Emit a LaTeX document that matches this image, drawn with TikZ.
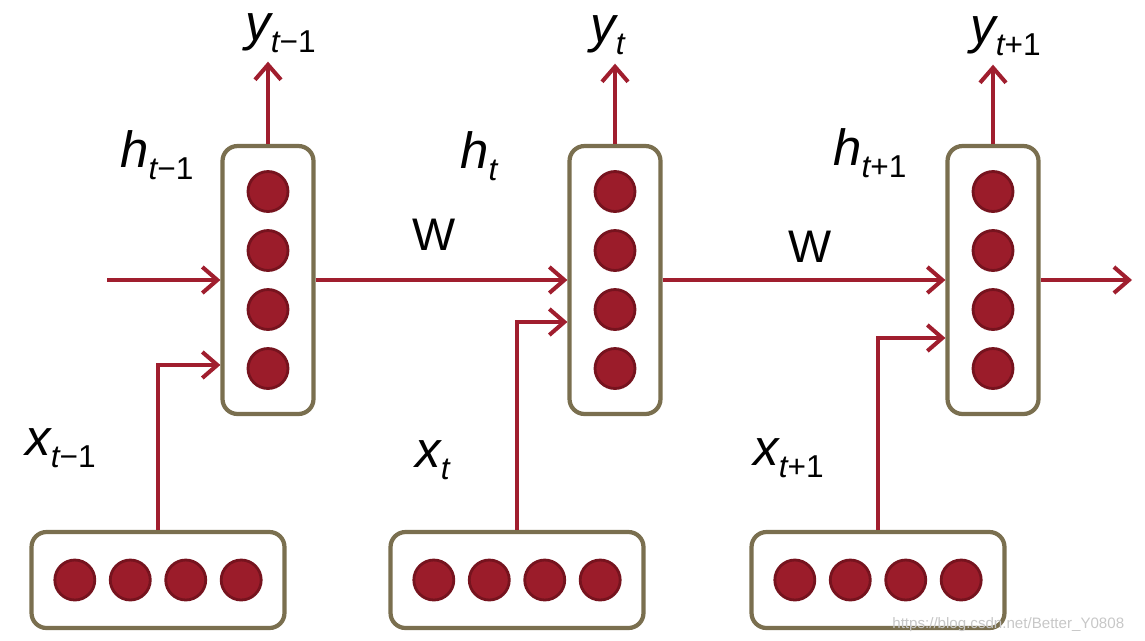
\documentclass[tikz,border=0pt]{standalone}
\usepackage{fontspec}
\setmainfont{Liberation Sans}
\usetikzlibrary{arrows.meta,%
	positioning,%
	calc}
\definecolor{boxgray}{RGB}{122,111,79}
\definecolor{arrred}{RGB}{160,30,46}
\definecolor{dotred}{RGB}{155,28,42}
\definecolor{dotedge}{RGB}{118,19,30}
\newcommand{\seqlab}[2]{{\itshape #1}\raisebox{-0.24cm}{\fontsize{18}{18}\selectfont\itshape t\upshape #2}}

\begin{document}
\begin{tikzpicture}[x = 0.02cm, y = -0.02cm, layer/.style = {draw=boxgray, line width=2.4pt, rounded corners=0.3cm, fill=white, inner sep=0pt}, hid/.style = {layer, minimum width=1.82cm, minimum height=5.36cm}, inp/.style = {layer, minimum width=5.06cm, minimum height=1.92cm}, unit/.style = {circle, draw=dotedge, line width=1.6pt, fill=dotred, minimum size=0.8cm, inner sep=0pt}, edge/.style = {draw=arrred, line width=2.3pt, -{Straight Barb[length=0.3cm, width=0.52cm]}}, lab/.style = {font=\fontsize{29}{30}\selectfont, inner sep=0pt, anchor=base west}, wlab/.style = {font=\fontsize{26}{28}\selectfont, inner sep=0pt, anchor=base west}]
	\useasboundingbox (0,0) rectangle (1145,640);
	\node[hid] (h1) at (268,280) {};
	\node[hid] (h2) at (615,280) {};
	\node[hid] (h3) at (993,280) {};
	\node[inp] (x1) at (158,580) {};
	\node[inp] (x2) at (517,580) {};
	\node[inp] (x3) at (878,580) {};
	\foreach \b in {1,2,3} {
		\foreach \k/\d in {1/-88.5,2/-29.5,3/29.5,4/88.5} {
			\node[unit] (h\b-\k) at ($(h\b)+(0,\d)$) {};
			\node[unit] (x\b-\k) at ($(x\b)+(\d*0.94,0)$) {};
		}
	}
	\node[lab] (y1) at (245,40) {\seqlab{y}{−1}};
	\node[lab] (y2) at (590,42) {\seqlab{y}{}};
	\node[lab] (y3) at (970,43) {\seqlab{y}{+1}};
	\node[lab] (hl1) at (120,167) {\seqlab{h}{−1}};
	\node[lab] (hl2) at (460,168) {\seqlab{h}{}};
	\node[lab] (hl3) at (833,165) {\seqlab{h}{+1}};
	\node[lab] (xl1) at (25,455) {\seqlab{x}{−1}};
	\node[lab] (xl2) at (415,467) {\seqlab{x}{}};
	\node[lab] (xl3) at (753,465) {\seqlab{x}{+1}};
	\node[wlab] (w1) at (412,250) {W};
	\node[wlab] (w2) at (788,262) {W};
	\coordinate (hin) at (107,280);
	\coordinate (hout) at (1132,280);
	\draw[edge] (hin) -- (h1);
	\draw[edge] (h1) -- (h2);
	\draw[edge] (h2) -- (h3);
	\draw[edge] (h3) -- (hout);
	\draw[edge, shorten >=0.18cm] (h1.north) -- (h1.north |- y1.south);
	\draw[edge, shorten >=0.18cm] (h2.north) -- (h2.north |- y2.south);
	\draw[edge, shorten >=0.18cm] (h3.north) -- (h3.north |- y3.south);
	\draw[edge] (x1) |- ([yshift=-1.7cm]h1.west);
	\draw[edge] (x2) |- ([yshift=-0.84cm]h2.west);
	\draw[edge] (x3) |- ([yshift=-1.16cm]h3.west);
	\node[font=\fontsize{8.6}{10}\selectfont, text=black!22, inner sep=0pt, anchor=base west] (mark) at (892,628) {https://blog.csdn.net/Better\_Y0808};
\end{tikzpicture}
\end{document}
